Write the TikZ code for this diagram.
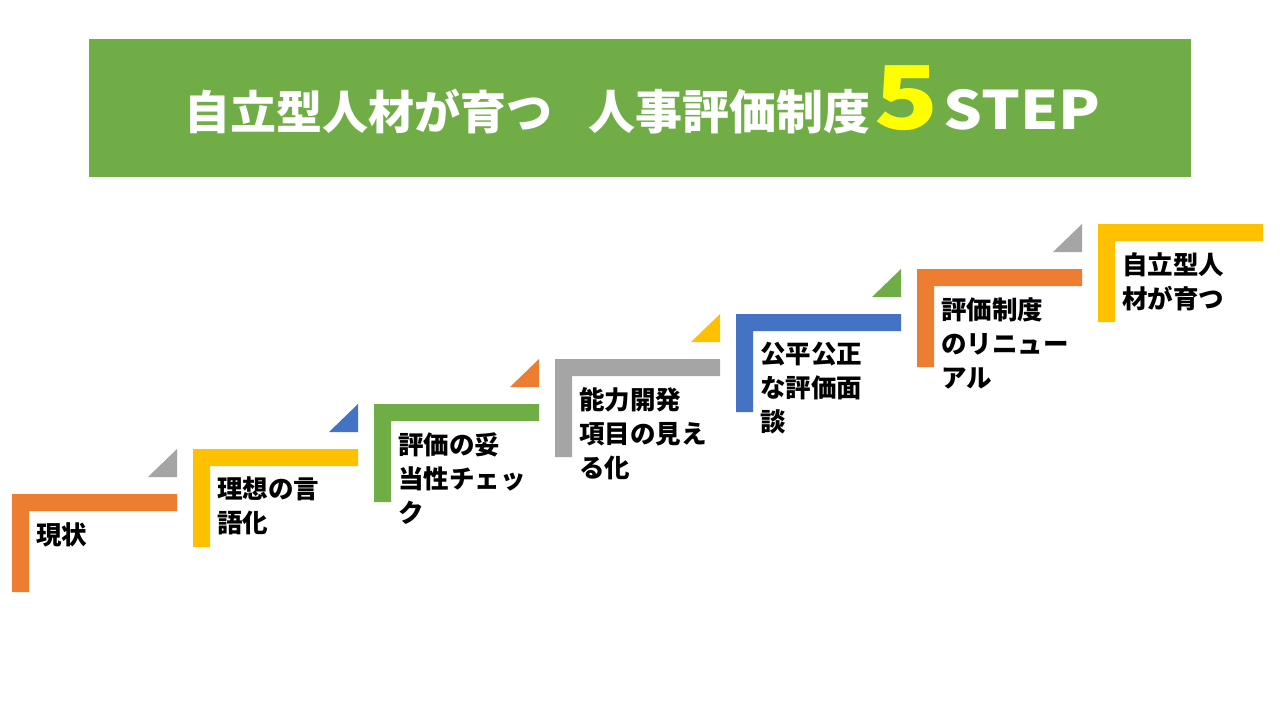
\documentclass[tikz,border=0pt]{standalone}
\usepackage{fontspec}
\newfontfamily\jp{Noto Sans CJK JP}
\definecolor{cOrange}{HTML}{ED7D31}
\definecolor{cYellow}{HTML}{FFC000}
\definecolor{cGreen}{HTML}{70AD47}
\definecolor{cGray}{HTML}{A5A5A5}
\definecolor{cBlue}{HTML}{4472C4}
\definecolor{cFive}{HTML}{FFFF00}
\begin{document}
\begin{tikzpicture}[x=1pt,y=-1pt,
  titlebox/.style={fill=cGreen,draw=none,minimum width=1102pt,minimum height=138pt,inner sep=0pt},
  steptext/.style={anchor=north west,inner sep=0pt,align=left,font=\jp\bfseries\fontsize{25.5}{34}\selectfont,text=black}]
\useasboundingbox[fill=white] (0,0) rectangle (1280,720);
\node[titlebox] (banner) at (640,108) {};
\node[anchor=base west,inner sep=0pt,text=white,font=\jp\bfseries] (title) at (184,129)
  {\fontsize{46}{46}\selectfont 自立型人材が育つ\hspace{36pt}{\fontsize{47}{47}\selectfont 人事評価制度}\hspace{4pt}{\color{cFive}\scalebox{1.2}[1]{\fontsize{88}{88}\selectfont 5}}\hspace{5pt}\scalebox{1.15}[1]{\fontsize{53}{53}\selectfont STEP}};
% steps
\foreach \i/\col/\tcol/\txt in {%
  0/cOrange/cGray/{現状},
  1/cYellow/cBlue/{理想の言\\語化},
  2/cGreen/cOrange/{評価の妥\\当性チェッ\\ク},
  3/cGray/cYellow/{能力開発\\項目の見え\\る化},
  4/cBlue/cGreen/{公平公正\\な評価面\\談},
  5/cOrange/cGray/{評価制度\\のリニュー\\アル},
  6/cYellow/none/{自立型人\\材が育つ}} {
  \pgfmathsetmacro{\xo}{12+181*\i}
  \pgfmathsetmacro{\yo}{494-45*\i}
  \fill[\col] (\xo,\yo) -- ++(165,0) -- ++(0,17) -- ++(-148,0) -- ++(0,81) -- ++(-17,0) -- cycle;
  \ifnum\i<6
    \fill[\tcol] (\xo+136,\yo-17) -- (\xo+165,\yo-17) -- (\xo+165,\yo-45) -- cycle;
  \fi
  \node[steptext] (step\i) at (\xo+24,\yo+28) {\txt};
}
\end{tikzpicture}
\end{document}
